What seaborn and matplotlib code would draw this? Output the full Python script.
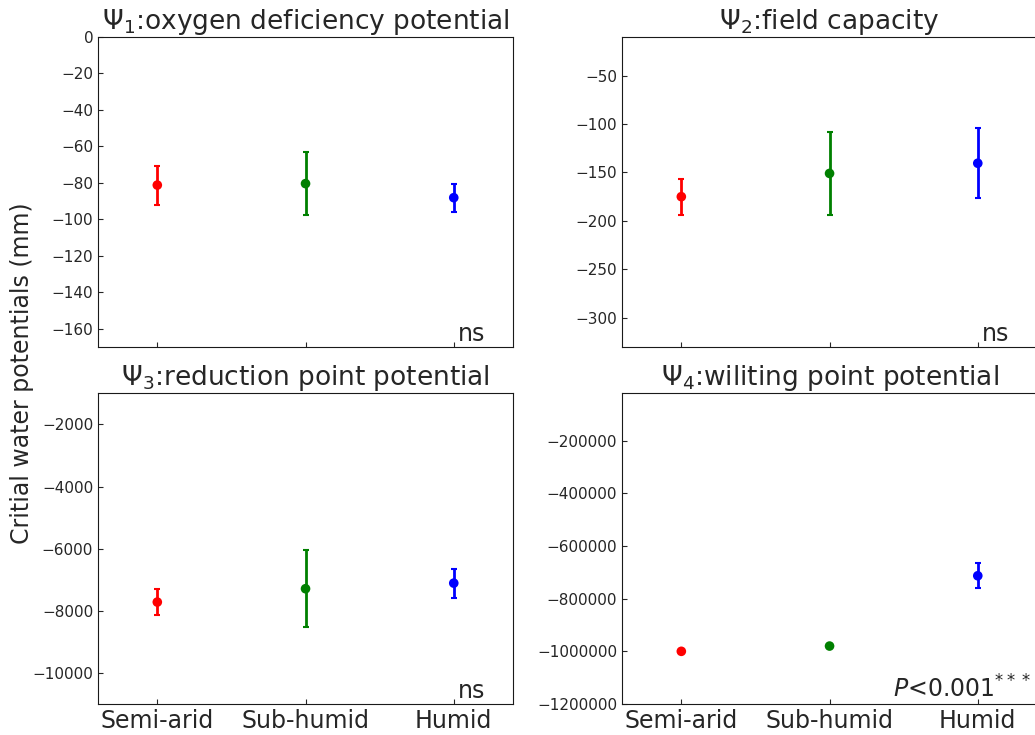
import matplotlib
matplotlib.use('Agg')
import matplotlib.pyplot as plt
from matplotlib.ticker import ScalarFormatter
import pandas as pd
import seaborn as sns

# climate zones
zones = ['Semi-arid', 'Sub-humid', 'Humid']
zone_colors = ['red', 'green', 'blue']

# mean and sd per zone for the four critical water potentials (mm)
psi1_mean = [-81.3, -80.5, -88.2]
psi1_sd = [10.7, 17.3, 7.6]
psi2_mean = [-175.0, -151.0, -140.5]
psi2_sd = [18.4, 43.0, 36.0]
psi3_mean = [-7720.0, -7290.0, -7110.0]
psi3_sd = [410.0, 1245.0, 470.0]
psi4_mean = [-1000000.0, -980000.0, -713000.0]
psi4_sd = [0.0, 0.0, 47000.0]

titles = [r'$\Psi_1$:oxygen deficiency potential',
          r'$\Psi_2$:field capacity',
          r'$\Psi_3$:reduction point potential',
          r'$\Psi_4$:wiliting point potential']
ylims = [(-170, 0), (-330, -10), (-11000, -1000), (-1200000, -20000)]
notes = ['ns', 'ns', 'ns', r'$P$<0.001$^{***}$']


def main():
    sns.set_style('ticks', {'xtick.direction': 'in', 'ytick.direction': 'in',
                            'axes.edgecolor': '0.1'})
    plt.rcParams['font.family'] = ['DejaVu Sans']

    fig = plt.figure(figsize=(10.35, 7.35), dpi=100)
    pos = [[0.0947, 0.528, 0.401, 0.422],
           [0.601, 0.528, 0.401, 0.422],
           [0.0947, 0.0422, 0.401, 0.4227],
           [0.601, 0.0422, 0.401, 0.4227]]

    means = [psi1_mean, psi2_mean, psi3_mean, psi4_mean]
    sds = [psi1_sd, psi2_sd, psi3_sd, psi4_sd]

    for i in range(4):
        ax = fig.add_axes(pos[i])
        df = pd.DataFrame({'zone': zones, 'mean': means[i], 'sd': sds[i]})
        for j, row in df.iterrows():
            ax.errorbar(j, row['mean'], yerr=row['sd'], fmt='none',
                        ecolor=zone_colors[j], elinewidth=2, capsize=2.5,
                        capthick=1.5)
        sns.scatterplot(data=df, x='zone', y='mean', hue='zone',
                        palette=zone_colors, s=48, edgecolor='none',
                        legend=False, ax=ax, zorder=3)
        ax.set_xlim(-0.4, 2.4)
        ax.set_ylim(*ylims[i])
        fmt = ScalarFormatter(useOffset=False)
        fmt.set_scientific(False)
        ax.yaxis.set_major_formatter(fmt)
        ax.set_xlabel('')
        ax.set_ylabel('')
        ax.set_title(titles[i], fontsize=19, pad=4)
        ax.tick_params(axis='y', labelsize=11)
        if i < 2:
            ax.set_xticklabels([])
        else:
            ax.tick_params(axis='x', labelsize=17)
        for s in ax.spines.values():
            s.set_visible(True)
        x0 = 0.866 if i < 3 else 0.653
        ax.text(x0, 0.02, notes[i], transform=ax.transAxes, fontsize=17)

    fig.text(0.021, 0.4925, 'Critial water potentials (mm)', rotation=90,
             va='center', ha='center', fontsize=17)

    plt.savefig('out.png', dpi=100)
    plt.close()


if __name__ == '__main__':
    main()
